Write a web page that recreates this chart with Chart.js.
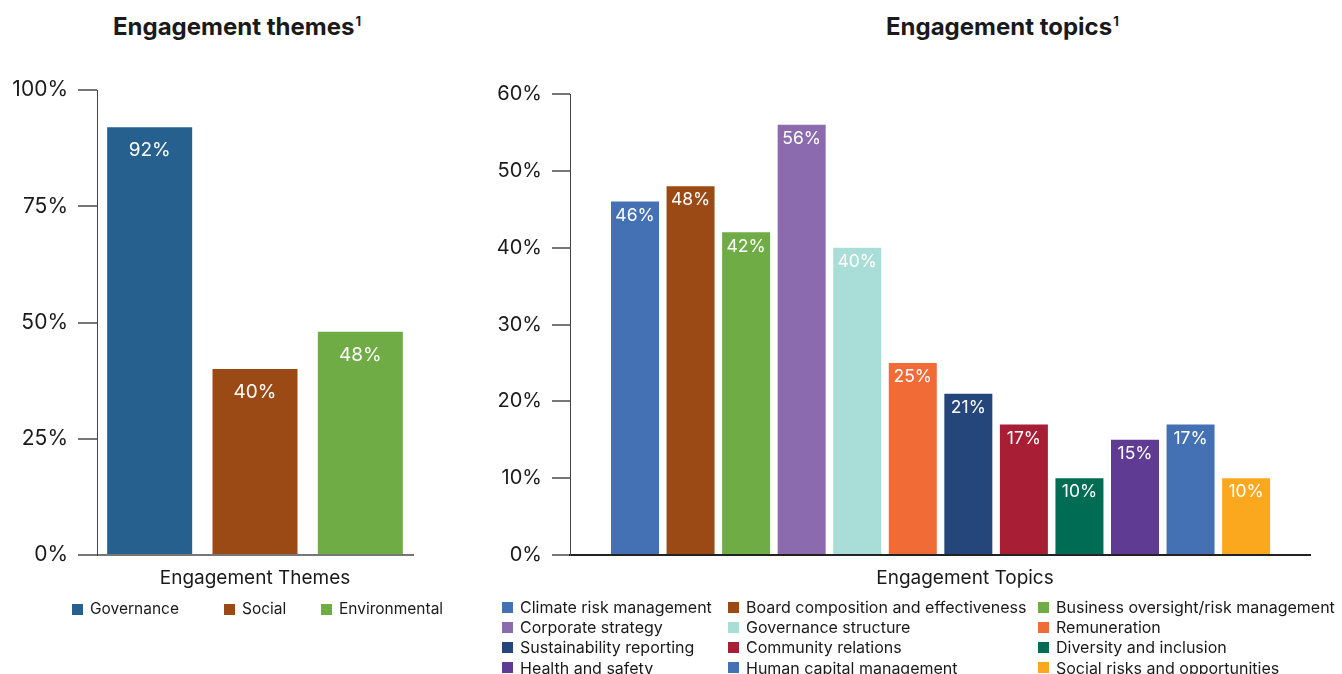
<!DOCTYPE html>
<html>
<head>
<meta charset="utf-8">
<script src="https://cdn.jsdelivr.net/npm/chart.js@4.4.1/dist/chart.umd.min.js"></script>
<style>
  html, body { margin: 0; padding: 0; background: #fff; }
  body { width: 1342px; height: 674px; position: relative; overflow: hidden;
         font-family: Inter, "Noto Sans", sans-serif; color: #1a1a1a; }
  .title { position: absolute; top: 12px; font-weight: 700; font-size: 24px; white-space: nowrap; }
  .title sup { font-size: 13px; vertical-align: 9px; margin-left: 1px; }
  .axis-title { position: absolute; top: 566px; font-size: 19px; white-space: nowrap; transform: translateX(-50%); }
  canvas { position: absolute; top: 0; }
  .legend { position: absolute; display: grid; line-height: 20px; }
  .legend .item { display: flex; align-items: center; white-space: nowrap; }
  .legend .sw { width: 11px; height: 11px; margin-right: 7px; flex: none; }
</style>
</head>
<body>
<div class="title" id="themesTitle" style="left:113px">Engagement themes<sup>1</sup></div>
<div class="title" id="topicsTitle" style="left:886px">Engagement topics<sup>1</sup></div>
<div id="leftWrap" style="position:absolute;left:0;top:0;width:470px;height:674px"><canvas id="themes"></canvas></div>
<div id="rightWrap" style="position:absolute;left:470px;top:0;width:872px;height:674px"><canvas id="topics"></canvas></div>
<div class="axis-title" style="left:255px">Engagement Themes</div>
<div class="axis-title" style="left:965px">Engagement Topics</div>
<div class="legend" id="themesLegend" style="left:72px;top:599px;font-size:15.5px;grid-template-columns:152px 97px auto"></div>
<div class="legend" id="topicsLegend" style="left:502px;top:597px;font-size:16px;grid-template-columns:226px 310px auto;line-height:20.2px"></div>
<script>
// Engagement themes
const themeLabels = ['Governance', 'Social', 'Environmental'];
const themeValues = [92, 40, 48];
const themeColors = ['#26608f', '#9b4a16', '#6fac46'];
const themeTicks = [0, 25, 50, 75, 100];

// Engagement topics
const topicLabels = [
  'Climate risk management', 'Board composition and effectiveness', 'Business oversight/risk management',
  'Corporate strategy', 'Governance structure', 'Remuneration',
  'Sustainability reporting', 'Community relations', 'Diversity and inclusion',
  'Health and safety', 'Human capital management', 'Social risks and opportunities'
];
const topicValues = [46, 48, 42, 56, 40, 25, 21, 17, 10, 15, 17, 10];
const topicColors = ['#4470b4', '#9b4a16', '#6fac46', '#8b6bae', '#a9ddd7', '#f06b35',
                     '#25467a', '#a81e35', '#006c53', '#5f3b94', '#4470b4', '#fba81f'];
const topicTicks = [0, 10, 20, 30, 40, 50, 60];

const FONT = 'Inter, "Noto Sans", sans-serif';

// white value labels inside the top of each bar
function valueLabels(offset, size) {
  return {
    id: 'valueLabels',
    afterDatasetsDraw(chart) {
      const ctx = chart.ctx;
      const meta = chart.getDatasetMeta(0);
      const values = chart.data.datasets[0].data;
      ctx.save();
      ctx.fillStyle = '#ffffff';
      ctx.font = size + 'px ' + FONT;
      ctx.textAlign = 'center';
      ctx.textBaseline = 'middle';
      meta.data.forEach((bar, i) => {
        const v = values[i];
        const val = typeof v === 'object' ? v.y : v;
        ctx.fillText(val + '%', bar.x, bar.y + offset);
      });
      ctx.restore();
    }
  };
}

function yAxis(max, width, tickLen, fontSize, ticksArr) {
  return {
    min: 0, max: max,
    afterFit(s) { s.width = width; },
    afterBuildTicks(s) { s.ticks = ticksArr.map(v => ({ value: v })); },
    border: { display: true, color: '#444', width: 1 },
    grid: { drawOnChartArea: false, drawTicks: true, tickLength: tickLen, color: '#777', lineWidth: 2 },
    ticks: { padding: 10, color: '#1a1a1a', font: { family: FONT, size: fontSize },
             callback: v => v + '%' }
  };
}

Chart.defaults.animation = false;

new Chart(document.getElementById('themes'), {
  type: 'bar',
  data: {
    labels: themeLabels,
    datasets: [{ data: themeValues, backgroundColor: themeColors,
                 categoryPercentage: 1, barPercentage: 0.807 }]
  },
  options: {
    responsive: true, maintainAspectRatio: false,
    layout: { padding: { left: 0, right: 57, top: 90, bottom: 119 } },
    plugins: { legend: { display: false }, tooltip: { enabled: false } },
    scales: {
      x: {
        afterFit(s) { s.height = 0; },
        border: { display: true, color: '#777', width: 2 },
        grid: { display: false },
        ticks: { display: false }
      },
      y: yAxis(100, 97, 19, 21, themeTicks)
    }
  },
  plugins: [valueLabels(23, 19)]
});

new Chart(document.getElementById('topics'), {
  type: 'bar',
  data: {
    labels: topicLabels,
    datasets: [{ data: topicValues.map((v, i) => ({ x: i, y: v })), backgroundColor: topicColors,
                 categoryPercentage: 1, barPercentage: 0.864 }]
  },
  options: {
    responsive: true, maintainAspectRatio: false,
    layout: { padding: { left: 0, right: 32, top: 94, bottom: 119 } },
    plugins: { legend: { display: false }, tooltip: { enabled: false } },
    scales: {
      x: {
        type: 'linear', min: -1.17, max: 12.15, offset: false,
        afterFit(s) { s.height = 0; },
        border: { display: true, color: '#222', width: 2 },
        grid: { display: false, offset: false },
        ticks: { display: false }
      },
      y: yAxis(60, 100, 18, 20, topicTicks)
    }
  },
  plugins: [valueLabels(14, 17.5)]
});

// HTML legends built from the same labels and colours
function buildLegend(el, labels, colors) {
  labels.forEach((l, i) => {
    const item = document.createElement('div');
    item.className = 'item';
    const sw = document.createElement('span');
    sw.className = 'sw';
    sw.style.background = colors[i];
    const tx = document.createElement('span');
    tx.textContent = l;
    item.appendChild(sw);
    item.appendChild(tx);
    el.appendChild(item);
  });
}
buildLegend(document.getElementById('themesLegend'), themeLabels, themeColors);
buildLegend(document.getElementById('topicsLegend'), topicLabels, topicColors);
</script>
</body>
</html>
